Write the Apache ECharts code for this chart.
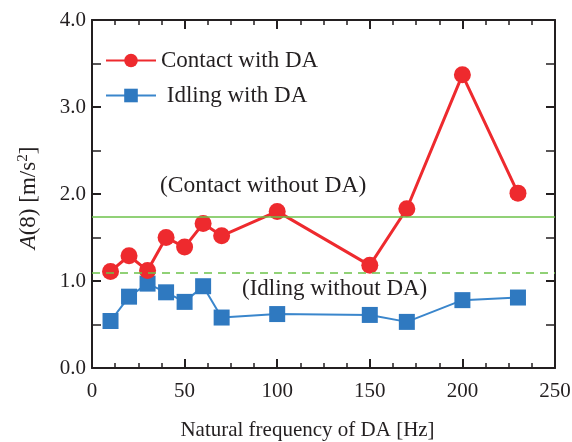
<!DOCTYPE html>
<html>
<head>
<meta charset="utf-8">
<script src="https://cdn.jsdelivr.net/npm/echarts@6/dist/echarts.min.js"></script>
<style>
	html, body { margin: 0; padding: 0; background: #fff; }
	#main { width: 572px; height: 442px; }
</style>
</head>
<body>
<div id="main"></div>
<script>
	// natural frequency of DA [Hz]
	var freq = [10, 20, 30, 40, 50, 60, 70, 100, 150, 170, 200, 230];
	var contactWithDA = [1.11, 1.29, 1.12, 1.50, 1.39, 1.66, 1.52, 1.80, 1.18, 1.83, 3.37, 2.01];
	var idlingWithDA = [0.54, 0.82, 0.97, 0.87, 0.76, 0.94, 0.58, 0.62, 0.61, 0.53, 0.78, 0.81];
	// reference levels without DA
	var contactWithoutDA = 1.74;
	var idlingWithoutDA = 1.09;
	var xTicks = [0, 50, 100, 150, 200, 250];
	var yTicks = [0.0, 1.0, 2.0, 3.0, 4.0];

	var font = "Liberation Serif";
	var ink = "#231f20";
	var chart = echarts.init(document.getElementById("main"));

	function pairs(xs, ys) {
		return xs.map(function (x, i) { return [x, ys[i]]; });
	}

	function frameAxis(extra, minorSplit, minorLen) {
		return Object.assign({
			type: "value",
			axisLine: { onZero: false, lineStyle: { color: ink, width: 2 } },
			axisTick: { inside: true, length: 9, lineStyle: { color: ink, width: 2 } },
			minorTick: { show: true, splitNumber: minorSplit, length: minorLen, lineStyle: { color: ink, width: 1.5 } },
			splitLine: { show: false },
			axisLabel: { show: false }
		}, extra);
	}

	var option = {
		animation: false,
		grid: { left: 92, right: 17, top: 20, bottom: 74, containLabel: false, outerBoundsMode: "none" },
		legend: {
			left: 100,
			top: 44,
			orient: "vertical",
			itemWidth: 50,
			itemHeight: 17,
			itemGap: 12,
			textStyle: { fontFamily: font, fontSize: 23, color: ink },
			data: ["Contact with DA", " Idling with DA"]
		},
		xAxis: [
			frameAxis({
				min: xTicks[0],
				max: xTicks[xTicks.length - 1],
				interval: 50,
				axisLabel: { fontFamily: font, fontSize: 21, color: ink, margin: 13 },
				name: "Natural frequency of DA [Hz]",
				nameLocation: "middle",
				nameGap: 52,
				nameTextStyle: { fontFamily: font, fontSize: 21, color: ink, padding: [0, 32, 0, 0] }
			}, 4, 5),
			frameAxis({
				position: "top",
				min: xTicks[0],
				max: xTicks[xTicks.length - 1],
				interval: 50
			}, 4, 5)
		],
		yAxis: [
			frameAxis({
				min: yTicks[0],
				max: yTicks[yTicks.length - 1],
				interval: 1,
				axisLabel: {
					fontFamily: font, fontSize: 21, color: ink, margin: 6, padding: [11, 0, 0, 0],
					formatter: function (v) { return v.toFixed(1); }
				},
				name: "{i|A}{n|(8) [m/s}{s|2}{n|]}",
				nameLocation: "middle",
				nameGap: 50,
				nameRotate: 90,
				nameTextStyle: {
					padding: [0, 8, 0, 0],
					rich: {
						i: { fontFamily: font, fontSize: 23, fontStyle: "italic", color: ink },
						n: { fontFamily: font, fontSize: 23, color: ink },
						s: { fontFamily: font, fontSize: 15, color: ink, verticalAlign: "top", padding: [0, 0, 11, 0] }
					}
				}
			}, 2, 9),
			frameAxis({
				position: "right",
				min: yTicks[0],
				max: yTicks[yTicks.length - 1],
				interval: 1
			}, 2, 9)
		],
		series: [
			{
				name: "Contact with DA",
				type: "line",
				data: pairs(freq, contactWithDA),
				symbol: "circle",
				symbolSize: 17,
				z: 4,
				itemStyle: { color: "#ee2a2e" },
				lineStyle: { color: "#ee2a2e", width: 3 },
				markLine: {
					silent: true,
					symbol: "none",
					label: { show: false },
					lineStyle: { color: "#6cc24a", width: 1.5, type: "solid" },
					data: [{ yAxis: contactWithoutDA }]
				}
			},
			{
				name: " Idling with DA",
				type: "line",
				data: pairs(freq, idlingWithDA),
				symbol: "rect",
				symbolSize: 16,
				z: 3,
				itemStyle: { color: "#2f79c0" },
				lineStyle: { color: "#3a86cc", width: 2 },
				markLine: {
					silent: true,
					symbol: "none",
					label: { show: false },
					lineStyle: { color: "#6cc24a", width: 1.5, type: [8, 6] },
					data: [{ yAxis: idlingWithoutDA }]
				}
			}
		],
		graphic: [
			{
				type: "text",
				left: 160,
				top: 174,
				style: { text: "(Contact without DA)", fontFamily: font, fontSize: 23.5, fill: ink }
			},
			{
				type: "text",
				left: 242,
				top: 277,
				style: { text: "(Idling without DA)", fontFamily: font, fontSize: 23, fill: ink }
			}
		]
	};

	chart.setOption(option);
</script>
</body>
</html>
